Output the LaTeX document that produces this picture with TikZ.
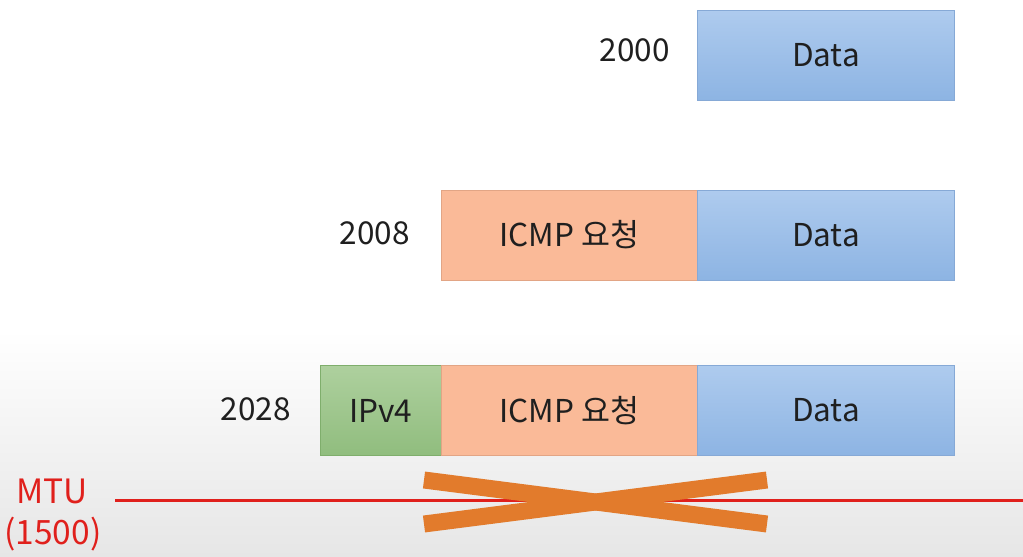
\documentclass[tikz,border=0pt]{standalone}
\usepackage{fontspec}
\setmainfont{Noto Sans CJK KR}
\definecolor{datatop}{HTML}{AECBEE}
\definecolor{databot}{HTML}{8DB4E3}
\definecolor{dataline}{HTML}{86A9D6}
\definecolor{icmpfill}{HTML}{FABA98}
\definecolor{icmpline}{HTML}{E2A585}
\definecolor{ipvtop}{HTML}{AED09E}
\definecolor{ipvbot}{HTML}{90BD7E}
\definecolor{ipvline}{HTML}{7FAE6C}
\definecolor{mtured}{HTML}{E0201C}
\definecolor{crossor}{HTML}{E27B2C}
\definecolor{bgbot}{HTML}{E6E6E6}
\begin{document}
\begin{tikzpicture}[x=1pt,y=-1pt,
  every node/.style={font=\fontsize{31.5}{33}\selectfont, text=black!88},
  field/.style={draw, line width=0.8pt, inner sep=0pt, minimum height=90pt, anchor=west},
  datafield/.style={field, top color=datatop, bottom color=databot, draw=dataline, minimum width=257pt},
  icmpfield/.style={field, fill=icmpfill, draw=icmpline, minimum width=256pt},
  ipvfield/.style={field, top color=ipvtop, bottom color=ipvbot, draw=ipvline, minimum width=121pt},
  sizelabel/.style={anchor=east, inner sep=0pt},
  mtulabel/.style={text=mtured, inner sep=0pt, font=\fontsize{33.5}{35}\selectfont},
  crossbar/.style={draw=crossor, line width=17pt}
]
\useasboundingbox (0,0) rectangle (1023,557);
\fill[white] (0,0) rectangle (1023,330);
\shade[top color=white, bottom color=bgbot] (0,330) rectangle (1023,557);

% row 1
\node[datafield] (d1) at (697,55) {Data};
\node[sizelabel] (s1) at (670,50) {2000};

% row 2
\node[icmpfield] (i2) at (441,235) {ICMP 요청};
\node[datafield] (d2) at (697,235) {Data};
\node[sizelabel] (s2) at (410,233) {2008};

% row 3
\node[ipvfield] (p3) at (320,410.5) {IPv4};
\node[icmpfield] (i3) at (441,410.5) {ICMP 요청};
\node[datafield] (d3) at (697,410.5) {Data};
\node[sizelabel] (s3) at (291,409) {2028};

% MTU line
\coordinate (m1) at (115,500);
\coordinate (m2) at (1023,500);
\draw[mtured, line width=3pt] (m1) -- (m2);
\node[mtulabel] (mtu) at (52,491) {MTU};
\node[mtulabel] (mtuv) at (53,534) {(1500)};

% cross
\coordinate (c1) at (424,480);
\coordinate (c2) at (767,524);
\coordinate (c3) at (424,524);
\coordinate (c4) at (767,480);
\draw[crossbar] (c1) -- (c2);
\draw[crossbar] (c3) -- (c4);
\end{tikzpicture}
\end{document}
